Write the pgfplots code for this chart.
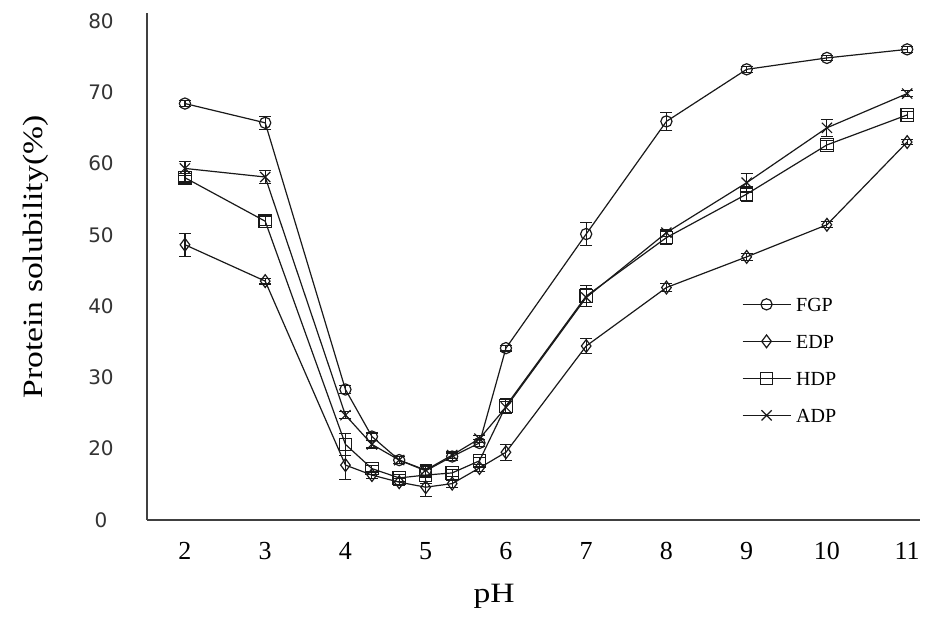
\documentclass[border=0pt]{standalone}
\usepackage{fontspec}
\setmainfont{Liberation Serif}
\newfontfamily\titlefont[FakeStretch=1.2]{Liberation Serif}
\newfontfamily\dejavu{DejaVu Sans}
\usepackage{pgfplots}
\usepackage{pgfplotstable}
\pgfplotsset{compat=1.18}

\pgfplotstableread{
x y e
2 68.4 0.4
3 65.7 0.9
4 28.3 0.5
4.33 21.7 0.5
4.67 18.4 0.5
5 16.9 0.8
5.33 18.9 0.5
5.67 20.8 0.5
6 34.1 0.4
7 50.1 1.6
8 65.9 1.3
9 73.2 0.4
10 74.8 0.4
11 76.0 0.4
}\fgp

\pgfplotstableread{
x y e
2 48.6 1.6
3 43.5 0.4
4 17.7 2.0
4.33 16.3 0.5
4.67 15.3 0.5
5 14.6 1.3
5.33 15.1 0.5
5.67 17.3 0.5
6 19.5 1.1
7 34.4 1.0
8 42.6 0.6
9 46.9 0.5
10 51.4 0.4
11 63.0 0.4
}\edp

\pgfplotstableread{
x y e
2 58.0 0.6
3 51.9 0.6
4 20.6 1.5
4.33 17.2 0.5
4.67 15.9 0.5
5 16.3 1.2
5.33 16.6 0.5
5.67 18.3 0.5
6 26.0 1.0
7 41.4 1.5
8 49.6 1.0
9 55.7 1.0
10 62.6 0.6
11 66.8 0.5
}\hdp

\pgfplotstableread{
x y e
2 59.3 1.0
3 58.1 0.9
4 24.7 0.5
4.33 20.6 0.5
4.67 18.4 0.5
5 17.0 0.8
5.33 19.1 0.5
5.67 21.4 0.5
6 25.8 0.8
7 41.2 1.2
8 50.3 0.5
9 57.3 1.3
10 65.0 1.2
11 69.8 0.4
}\adp

\begin{document}
\begin{tikzpicture}
\begin{axis}[
  name=ax,
  scale only axis,
  width=386.5pt, height=253.5pt,
  xmin=1.527, xmax=11.16,
  ymin=10, ymax=81.1,
  axis x line*=bottom, axis y line*=left,
  axis line style={black!75, line width=0.75pt},
  major tick length=0pt,
  xtick={2,3,4,5,6,7,8,9,10,11},
  xticklabels={2,3,4,5,6,7,8,9,10,11},
  ytick={10,20,30,40,50,60,70,80},
  yticklabels={0,20,30,40,50,60,70,80},
  xticklabel style={font=\fontsize{13}{15}\selectfont, anchor=center, yshift=-15.5pt},
  yticklabel style={font=\fontsize{10}{12}\selectfont\dejavu, text=black!80, anchor=center, xshift=-23pt},
  xlabel={pH},
  ylabel={Protein solubility(\%)},
  xlabel style={at={(axis description cs:0.449,0)}, anchor=center, yshift=-38pt, font=\fontsize{14}{16}\selectfont\titlefont},
  ylabel style={at={(axis description cs:-0.1436,0.5187)}, anchor=center, font=\fontsize{14}{16}\selectfont\titlefont},
  clip=false,
  legend cell align=left,
  legend style={draw=none, fill=none, at={(axis cs:8.936,41.6)}, anchor=north west,
    inner sep=0pt, font=\fontsize{10}{12}\selectfont, row sep=9.2pt, column sep=2.5pt,
    nodes={inner sep=0pt, text height=8pt, text depth=1.3pt}},
  legend image code/.code={\draw[mark repeat=2,mark phase=2,#1] plot coordinates {(0pt,0pt) (12pt,0pt) (24pt,0pt)};},
]
\addplot[black!90, line width=0.6pt, mark=o, mark size=2.8pt, mark options={solid},
  error bars/.cd, y dir=both, y explicit, error bar style={line width=0.55pt},
  error mark options={rotate=90, mark size=3pt, line width=0.55pt}]
  table[x=x, y=y, y error=e] {\fgp};
\addlegendentry{FGP}
\addplot[black!90, line width=0.6pt, mark=diamond, mark size=3.2pt, mark options={solid},
  error bars/.cd, y dir=both, y explicit, error bar style={line width=0.55pt},
  error mark options={rotate=90, mark size=3pt, line width=0.55pt}]
  table[x=x, y=y, y error=e] {\edp};
\addlegendentry{EDP}
\addplot[black!90, line width=0.6pt, mark=square, mark size=3.1pt, mark options={solid},
  error bars/.cd, y dir=both, y explicit, error bar style={line width=0.55pt},
  error mark options={rotate=90, mark size=3pt, line width=0.55pt}]
  table[x=x, y=y, y error=e] {\hdp};
\addlegendentry{HDP}
\addplot[black!90, line width=0.6pt, mark=x, mark size=3.6pt, mark options={solid},
  error bars/.cd, y dir=both, y explicit, error bar style={line width=0.55pt},
  error mark options={rotate=90, mark size=3pt, line width=0.55pt}]
  table[x=x, y=y, y error=e] {\adp};
\addlegendentry{ADP}
\end{axis}
\pgfresetboundingbox
\path[use as bounding box] ([shift={(-73.5pt,-50pt)}]ax.south west) rectangle ([shift={(6.5pt,6.5pt)}]ax.north east);
\end{tikzpicture}
\end{document}
